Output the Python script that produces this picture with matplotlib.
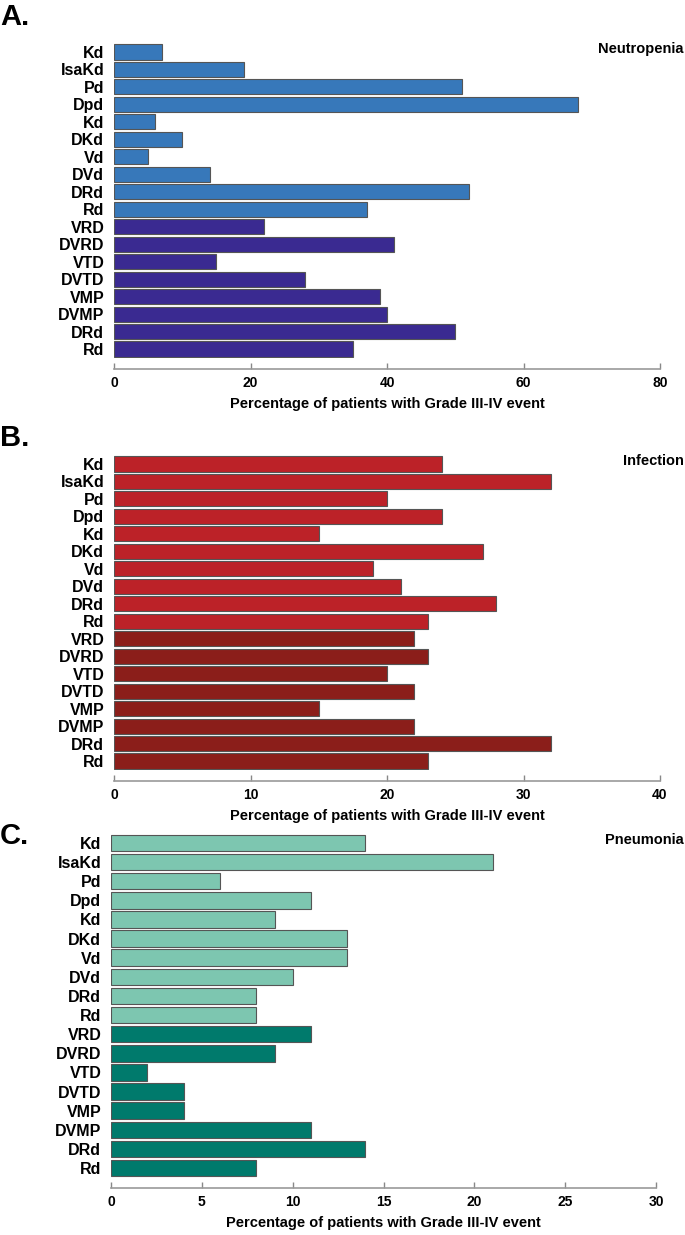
import numpy as np
import matplotlib
matplotlib.use('Agg')
import matplotlib.pyplot as plt
import matplotlib.transforms as mtransforms

plt.rcParams['font.family'] = ['Liberation Sans', 'DejaVu Sans']
plt.rcParams['font.weight'] = 'bold'

# regimens (top to bottom)
regimens = ['Kd', 'IsaKd', 'Pd', 'Dpd', 'Kd', 'DKd', 'Vd', 'DVd', 'DRd', 'Rd',
            'VRD', 'DVRD', 'VTD', 'DVTD', 'VMP', 'DVMP', 'DRd', 'Rd']
n_light = 10  # first 10 bars use the lighter shade

neutropenia = [7, 19, 51, 68, 6, 10, 5, 14, 52, 37, 22, 41, 15, 28, 39, 40, 50, 35]
infection = [24, 32, 20, 24, 15, 27, 19, 21, 28, 23, 22, 23, 20, 22, 15, 22, 32, 23]
pneumonia = [14, 21, 6, 11, 9, 13, 13, 10, 8, 8, 11, 9, 2, 4, 4, 11, 14, 8]

neut_colors = ['#3778ba', '#3a2a91']
inf_colors = ['#bc2228', '#8b1e1a']
pneu_colors = ['#7dc6b0', '#007a6c']

W, H = 685, 1235
fig = plt.figure(figsize=(W / 100, H / 100), dpi=100)


def px_axes(x0, x1, top, bottom):
    # pixel box -> figure fraction
    return fig.add_axes([x0 / W, 1 - bottom / H, (x1 - x0) / W, (bottom - top) / H])


panels = [
    # letter, title, values, colors, xmax, xticks, (x0, x1, first center, last center), axis px, letter y
    ('A.', 'Neutropenia', neutropenia, neut_colors, 80, [0, 20, 40, 60, 80], (114, 660, 52, 349), 369, 17),
    ('B.', 'Infection', infection, inf_colors, 40, [0, 10, 20, 30, 40], (114, 660, 464, 761), 781, 438),
    ('C.', 'Pneumonia', pneumonia, pneu_colors, 30, [0, 5, 10, 15, 20, 25, 30], (111, 656, 843, 1168), 1188, 836),
]

for letter, title, vals, cols, xmax, ticks, box, axis_y, letter_y in panels:
    x0, x1, c0, c1 = box
    step = (c1 - c0) / (len(regimens) - 1)
    top = c0 - step / 2
    bottom = c1 + step / 2
    ax = px_axes(x0, x1, top, bottom)

    y = np.arange(len(regimens))
    colors = [cols[0] if i < n_light else cols[1] for i in range(len(regimens))]
    ax.barh(y, vals, height=0.86, color=colors, edgecolor='#555555', linewidth=0.8)

    ax.set_ylim(len(regimens) - 0.5, -0.5)
    ax.set_xlim(0, xmax)
    ax.set_yticks(y)
    ax.set_yticklabels(regimens, fontsize=11.5, fontweight='bold')
    ax.tick_params(axis='y', length=0, pad=7)

    ax.set_xticks(ticks)
    ax.set_xticklabels([str(t) for t in ticks], fontsize=12, fontweight='bold')
    ax.tick_params(axis='x', direction='in', length=4, color='#888888', width=1, pad=5)

    for s in ['top', 'right', 'left']:
        ax.spines[s].set_visible(False)
    ax.spines['bottom'].set_position(('outward', (axis_y - bottom) * 72 / 100))
    ax.spines['bottom'].set_color('#999999')
    ax.spines['bottom'].set_linewidth(1.2)

    ax.set_xlabel('Percentage of patients with Grade III-IV event', fontsize=10.5,
                  fontweight='bold', labelpad=5)

    trans = mtransforms.blended_transform_factory(fig.transFigure, ax.transData)
    ax.text(0.998, -0.15, title, transform=trans, ha='right', va='center',
            fontsize=10.5, fontweight='bold')
    fig.text(0.0, 1 - letter_y / H, letter, ha='left', va='center',
             fontsize=21, fontweight='bold')

fig.savefig('out.png', dpi=100)
